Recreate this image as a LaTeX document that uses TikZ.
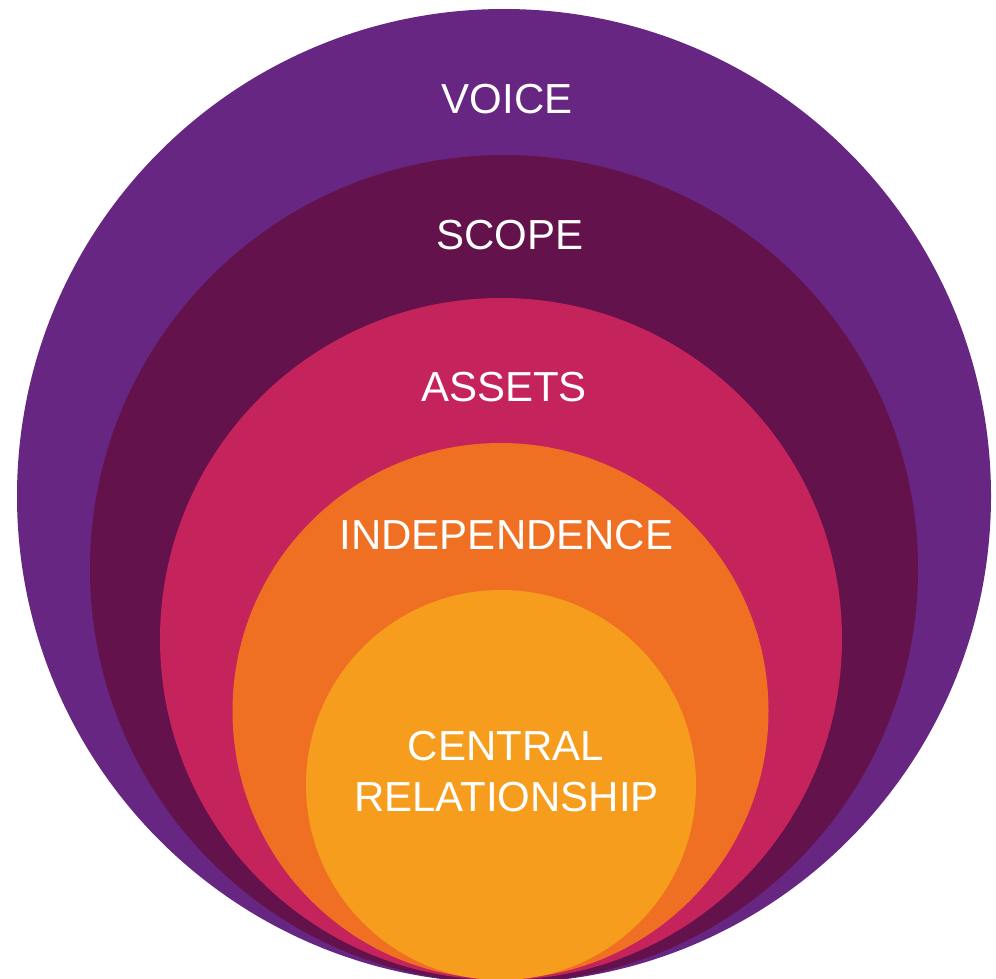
\documentclass[tikz,border=0pt]{standalone}
\usepackage{fontspec}
\setmainfont{Liberation Sans}
\definecolor{cvoice}{HTML}{662681}
\definecolor{cscope}{HTML}{64124B}
\definecolor{cassets}{HTML}{C4235B}
\definecolor{cindep}{HTML}{F07023}
\definecolor{ccentral}{HTML}{F79D1E}
\begin{document}
\begin{tikzpicture}[x=1pt,y=-1pt,
  lbl/.style={text=white,anchor=base,inner sep=0pt,font=\fontsize{42}{52}\selectfont}]
\useasboundingbox (0,0) rectangle (996,978);
\clip (0,0) rectangle (996,978);
\fill[cvoice] (504,496) circle[radius=487];
\fill[cscope] (504,569) circle[radius=414];
\fill[cassets] (501,639) circle[radius=341];
\fill[cindep] (500.5,711) circle[radius=268];
\fill[ccentral] (501,785) circle[radius=195];
\node[lbl] (voice) at (507,113) {VOICE};
\node[lbl] (scope) at (510,249) {SCOPE};
\node[lbl] (assets) at (504,401) {ASSETS};
\node[lbl] (indep) at (506.5,549) {INDEPENDENCE};
\node[lbl] (central) at (506,760) {CENTRAL};
\node[lbl] (relation) at (506.5,811) {RELATIONSHIP};
\end{tikzpicture}
\end{document}
